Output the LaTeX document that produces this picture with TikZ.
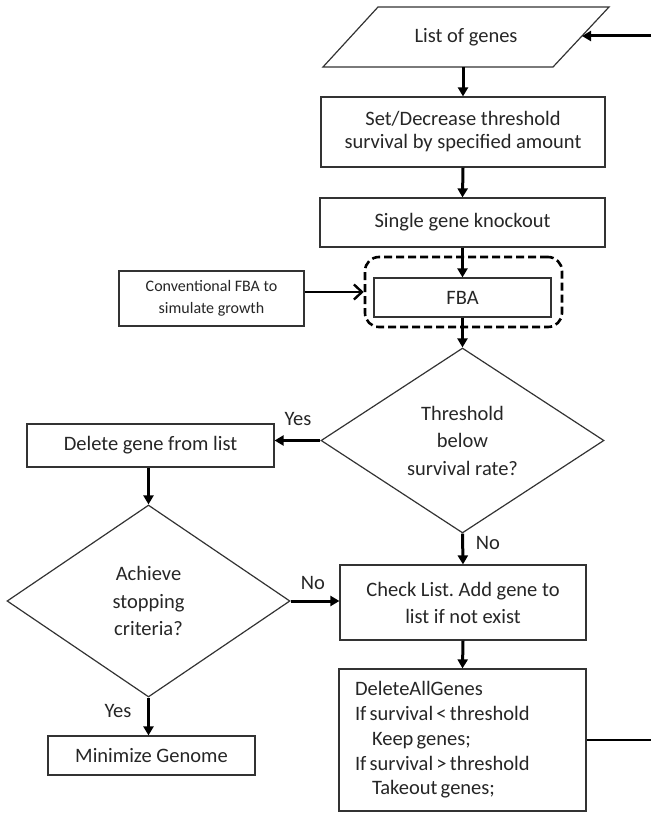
\documentclass[tikz,border=0pt]{standalone}
\usepackage{fontspec}
\setmainfont{Carlito}
\usetikzlibrary{shapes.geometric,arrows.meta}
\newcommand\mytightsp{\spaceskip=0.7\fontdimen2\font\relax}
\frenchspacing
\begin{document}
\begin{tikzpicture}[x=1pt,y=-1pt,
  box/.style={draw=black!80,line width=1.2pt,fill=white,inner sep=0pt,align=center,text=black!85,
    font=\fontsize{20.5}{23}\selectfont},
  dia/.style={diamond,draw=black!80,line width=1.2pt,inner sep=0pt,align=center,aspect=1.5,text=black!85,
    font=\fontsize{20.5}{27.5}\selectfont},
  arr/.style={line width=3pt,-{Triangle[length=9pt,width=10pt]}},
  openarr/.style={line width=2.6pt,-{Straight Barb[length=8pt,width=15pt,line width=2.4pt]}},
  plain/.style={line width=2.6pt},
  lbl/.style={font=\fontsize{20.5}{24}\selectfont,inner sep=0pt,text=black!85}]
\useasboundingbox (0,0) rectangle (651,813);
% list of genes (parallelogram)
\draw[draw=black!80,line width=1.2pt] (378,7) -- (609,7) -- (553,67) -- (323,67) -- cycle;
\node[inner sep=0pt,minimum width=231pt,minimum height=60pt,text=black!85,font=\fontsize{20.5}{24}\selectfont] (list) at (466,37) {List of genes};
\coordinate (listR) at (582,36);
\coordinate (rin) at (651,36);
% main column
\node[box,minimum width=284pt,minimum height=70pt] (set) at (463,132)
  {Set/Decrease threshold\\survival by specified amount};
\node[box,minimum width=285pt,minimum height=49pt] (sgk) at (462.5,222.5) {Single gene knockout};
\node[draw=black,line width=2.6pt,dash pattern=on 8pt off 4pt,rounded corners=14pt,
  minimum width=197pt,minimum height=70pt,inner sep=0pt] (wrap) at (463.5,292) {};
\node[box,minimum width=177pt,minimum height=39pt] (fba) at (462.5,297.5) {FBA};
\node[box,minimum width=185pt,minimum height=55pt,font=\fontsize{16}{22}\selectfont] (conv) at (211.5,298.5)
  {Conventional FBA to\\simulate growth};
\node[dia,minimum width=283pt,minimum height=185pt] (d1) at (462.5,440.5)
  {Threshold\\below\\survival rate?};
\node[box,minimum width=247pt,minimum height=43pt] (del) at (150.5,445.5) {Delete gene from list};
\node[dia,minimum width=283pt,minimum height=192pt] (d2) at (148.5,601)
  {Achieve\\stopping\\criteria?};
\node[box,minimum width=246pt,minimum height=75pt,font=\fontsize{20.5}{27}\selectfont] (check) at (463,602.5)
  {Check List. Add gene to\\list if not exist};
\node[box,minimum width=247pt,minimum height=142pt,text width=215pt,inner xsep=16pt,align=flush left,
  font=\fontsize{20.5}{24.7}\selectfont\mytightsp] (bot) at (462.5,740)
  {DeleteAllGenes\\If survival < threshold\\\hspace*{17pt}Keep genes;\\If survival > threshold\\\hspace*{17pt}Takeout genes;};
\node[box,minimum width=207pt,minimum height=39pt] (mini) at (151.5,755.5) {Minimize Genome};
\coordinate (rout) at (651,740);
% connectors
\draw[arr] (rin) -- (listR);
\draw[arr] (list.south -| set.north) -- (set.north);
\draw[arr] (set.south) -- (sgk.north);
\draw[arr] (sgk.south) -- (fba.north);
\draw[openarr] (conv.east |- wrap.west) -- (wrap.west);
\draw[arr] (fba.south) -- (d1.north);
\draw[arr] (d1.west) -- (d1.west -| del.east);
\draw[arr] (d2.north |- del.south) -- (d2.north);
\draw[arr] (d1.south) -- (check.north);
\draw[arr] (d2.east) -- (d2.east -| check.west);
\draw[arr] (check.south) -- (bot.north);
\draw[arr] (d2.south) -- (d2.south |- mini.north);
\draw[plain] (bot.east) -- (rout);
% labels
\node[lbl] (yes1) at (298,419) {Yes};
\node[lbl] (no1) at (488,543) {No};
\node[lbl] (no2) at (313,583) {No};
\node[lbl] (yes2) at (118,711) {Yes};
\end{tikzpicture}
\end{document}
